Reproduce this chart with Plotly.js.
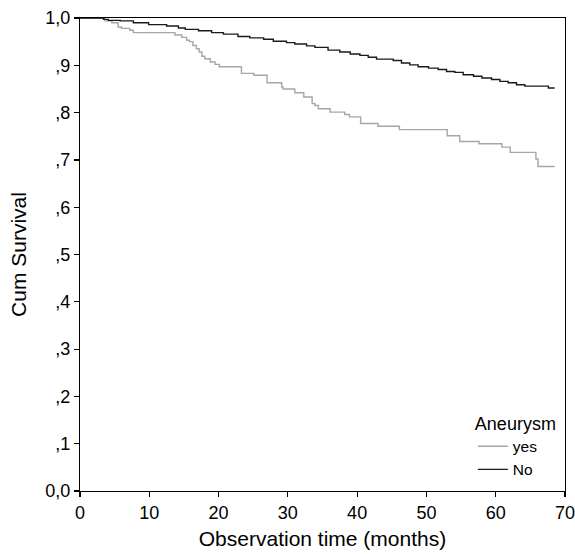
<!DOCTYPE html>
<html>
<head>
<meta charset="utf-8">
<script src="https://cdn.plot.ly/plotly-3.0.1.min.js"></script>
<style>html,body{margin:0;padding:0;background:#fff;}#chart{width:575px;height:554px;}</style>
</head>
<body>
<div id="chart"></div>
<script>
// Aneurysm = yes
var yesTime = [0, 3.6, 4.6, 5.5, 6.0, 7.2, 7.7, 13.7, 14.7, 15.4, 15.8, 16.3, 16.8, 17.2, 17.6, 18.0, 18.8, 19.5, 20.1, 23.3, 25.1, 27.0, 29.1, 29.3, 31.0, 32.3, 33.5, 33.9, 34.4, 36.1, 38.2, 38.9, 40.5, 43.0, 46.1, 53.0, 54.8, 57.6, 60.9, 62.1, 65.8, 66.1, 68.5];
var yesSurv = [1.0, 0.994, 0.990, 0.981, 0.978, 0.974, 0.969, 0.964, 0.959, 0.953, 0.950, 0.942, 0.935, 0.928, 0.919, 0.914, 0.907, 0.902, 0.897, 0.883, 0.879, 0.863, 0.854, 0.850, 0.842, 0.833, 0.819, 0.815, 0.808, 0.801, 0.796, 0.791, 0.777, 0.771, 0.764, 0.751, 0.739, 0.734, 0.727, 0.716, 0.702, 0.686, 0.686];
// Aneurysm = No
var noTime = [0, 3.4, 4.1, 5.8, 7.7, 9.9, 12.5, 14.2, 15.2, 17.1, 19.0, 20.7, 22.8, 24.5, 26.5, 27.9, 29.8, 31.0, 32.7, 33.9, 35.8, 37.5, 39.0, 40.4, 41.6, 42.8, 45.2, 46.4, 47.6, 48.8, 50.3, 51.7, 52.9, 54.1, 55.3, 56.8, 58.0, 59.4, 60.6, 61.8, 63.0, 64.2, 67.6, 68.5];
var noSurv = [1.0, 0.997, 0.995, 0.994, 0.990, 0.986, 0.983, 0.979, 0.976, 0.973, 0.969, 0.966, 0.961, 0.958, 0.955, 0.951, 0.948, 0.945, 0.941, 0.938, 0.932, 0.928, 0.924, 0.921, 0.917, 0.913, 0.910, 0.905, 0.901, 0.897, 0.894, 0.891, 0.887, 0.885, 0.880, 0.877, 0.873, 0.870, 0.866, 0.863, 0.859, 0.856, 0.852, 0.852];

var xTicks = [0, 10, 20, 30, 40, 50, 60, 70];
var yTickVals = [0, 0.1, 0.2, 0.3, 0.4, 0.5, 0.6, 0.7, 0.8, 0.9, 1.0];
var yTickText = ['0,0', ',1', ',2', ',3', ',4', ',5', ',6', ',7', ',8', ',9', '1,0'];

var FONT = 'Liberation Sans, Arial, sans-serif';

var traces = [
  {x: yesTime, y: yesSurv, type: 'scatter', mode: 'lines', name: 'yes', legendgroup: 'a',
   line: {shape: 'hv', color: '#a6a6a6', width: 1.4}},
  {x: noTime, y: noSurv, type: 'scatter', mode: 'lines', name: 'No', legendgroup: 'b',
   line: {shape: 'hv', color: '#1a1a1a', width: 1.4}}
];

var layout = {
  width: 575, height: 554,
  margin: {l: 80, r: 10, t: 18, b: 63},
  paper_bgcolor: '#fff', plot_bgcolor: '#fff',
  font: {family: FONT, color: '#000', size: 18},
  showlegend: true,
  legend: {
    x: 0.81, xanchor: 'left', y: 0.01, yanchor: 'bottom',
    bgcolor: 'rgba(0,0,0,0)', borderwidth: 0,
    font: {family: FONT, size: 15.5, color: '#000'},
    title: {text: 'Aneurysm', side: 'top', font: {family: FONT, size: 18, color: '#000'}},
    tracegroupgap: 9,
    traceorder: 'normal'
  },
  xaxis: {
    range: [0, 70], tickvals: xTicks, ticktext: xTicks.map(String),
    showline: true, linecolor: '#000', linewidth: 1.2, mirror: true,
    ticks: 'outside', ticklen: 5, tickcolor: '#000', tickwidth: 1.2,
    showgrid: false, zeroline: false, automargin: false,
    ticklabeloverflow: 'allow',
    tickfont: {family: FONT, size: 18},
    title: {text: 'Observation time (months)', font: {family: FONT, size: 21}, standoff: 9}
  },
  yaxis: {
    range: [0, 1.0], tickvals: yTickVals, ticktext: yTickText,
    showline: true, linecolor: '#000', linewidth: 1.2, mirror: true,
    ticks: 'outside', ticklen: 5, tickcolor: '#000', tickwidth: 1.2,
    showgrid: false, zeroline: false, automargin: false,
    ticklabeloverflow: 'allow',
    tickfont: {family: FONT, size: 18},
    title: {text: 'Cum Survival', font: {family: FONT, size: 21}, standoff: 12}
  }
};

Plotly.newPlot('chart', traces, layout, {displayModeBar: false, staticPlot: true});
</script>
</body>
</html>
